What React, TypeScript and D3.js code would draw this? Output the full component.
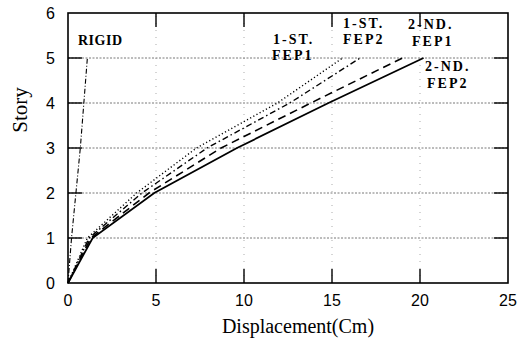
import React, { useEffect, useRef } from 'react';
import * as d3 from 'd3';

// story levels and displacement (cm)
const stories = [0, 1, 2, 3, 4, 5];
const rigid = [0, 0.2, 0.45, 0.7, 0.9, 1.1];
const st1Fep1 = [0, 1.1, 3.9, 7.3, 11.9, 15.6];
const st1Fep2 = [0, 1.2, 4.2, 7.9, 12.6, 16.6];
const nd2Fep1 = [0, 1.3, 4.6, 8.7, 13.8, 19.0];
const nd2Fep2 = [0, 1.4, 4.9, 9.6, 14.8, 20.2];
const xTicks = [0, 5, 10, 15, 20, 25];
const yTicks = [0, 1, 2, 3, 4, 5, 6];

export default function App() {
  const ref = useRef<SVGSVGElement>(null);

  /* SIZE */
  const WIDTH = 529;
  const HEIGHT = 345;
  const margin = { top: 13, right: 21, bottom: 62, left: 68 };
  const TICK = 14;

  function draw() {
    const svg = d3.select(ref.current);
    svg.selectAll('*').remove();

    const x = d3.scaleLinear().domain([0, 25]).range([margin.left, WIDTH - margin.right]);
    const y = d3.scaleLinear().domain([0, 6]).range([HEIGHT - margin.bottom, margin.top]);

    const g = svg.append('g');

    // grid
    g.append('g').selectAll('line')
      .data(yTicks.slice(1, -1))
      .enter().append('line')
      .attr('x1', x(0)).attr('x2', x(25))
      .attr('y1', d => y(d)).attr('y2', d => y(d))
      .attr('stroke', '#555').attr('stroke-width', 0.8)
      .attr('stroke-dasharray', '2,1.5');
    g.append('g').selectAll('line')
      .data(xTicks.slice(1, -1))
      .enter().append('line')
      .attr('y1', y(0)).attr('y2', y(6))
      .attr('x1', d => x(d)).attr('x2', d => x(d))
      .attr('stroke', '#888').attr('stroke-width', 0.7)
      .attr('stroke-dasharray', '1,6');

    // ticks inside the frame
    const ticks = g.append('g').attr('stroke', '#000').attr('stroke-width', 1.4);
    yTicks.slice(1, -1).forEach(d => {
      ticks.append('line').attr('x1', x(0)).attr('x2', x(0) + TICK).attr('y1', y(d)).attr('y2', y(d));
      ticks.append('line').attr('x1', x(25)).attr('x2', x(25) - TICK).attr('y1', y(d)).attr('y2', y(d));
    });
    xTicks.slice(1, -1).forEach(d => {
      ticks.append('line').attr('x1', x(d)).attr('x2', x(d)).attr('y1', y(0)).attr('y2', y(0) - TICK);
      ticks.append('line').attr('x1', x(d)).attr('x2', x(d)).attr('y1', y(6)).attr('y2', y(6) + TICK);
    });

    // frame
    g.append('rect')
      .attr('x', x(0)).attr('y', y(6))
      .attr('width', x(25) - x(0)).attr('height', y(0) - y(6))
      .attr('fill', 'none').attr('stroke', '#000').attr('stroke-width', 1.6);

    // curves
    const line = d3.line<number>()
      .x(d => x(d))
      .y((d, i) => y(stories[i]));
    const series = [
      { values: rigid, dash: '5,2,1,2', width: 1.1 },
      { values: st1Fep1, dash: '1.2,2.4', width: 1.4 },
      { values: st1Fep2, dash: '6,3,1.5,3', width: 1.4 },
      { values: nd2Fep1, dash: '8,5', width: 1.6 },
      { values: nd2Fep2, dash: null, width: 1.8 },
    ];
    g.append('g').selectAll('path')
      .data(series)
      .enter().append('path')
      .attr('fill', 'none')
      .attr('stroke', '#000')
      .attr('stroke-width', d => d.width)
      .attr('stroke-dasharray', d => d.dash)
      .attr('d', d => line(d.values));

    // tick labels
    const tickFont = '"Liberation Sans", Arial, sans-serif';
    g.append('g').selectAll('text')
      .data(xTicks)
      .enter().append('text')
      .attr('x', d => x(d)).attr('y', y(0) + 23)
      .attr('text-anchor', 'middle')
      .attr('font-family', tickFont).attr('font-size', 16)
      .text(d => d);
    g.append('g').selectAll('text')
      .data(yTicks)
      .enter().append('text')
      .attr('x', x(0) - 13).attr('y', d => y(d) + 6)
      .attr('text-anchor', 'end')
      .attr('font-family', tickFont).attr('font-size', 16)
      .text(d => d);

    // axis titles
    const serif = '"Liberation Serif", "Times New Roman", serif';
    g.append('text')
      .attr('x', 298).attr('y', 333)
      .attr('text-anchor', 'middle')
      .attr('font-family', serif).attr('font-size', 20)
      .text('Displacement(Cm)');
    g.append('text')
      .attr('transform', 'translate(27,110) rotate(-90)')
      .attr('text-anchor', 'middle')
      .attr('font-family', serif).attr('font-size', 21)
      .text('Story');

    // curve labels
    const labels = [
      { text: 'RIGID', x: 78, y: 45, spacing: 0.5 },
      { text: '1-ST.', x: 273, y: 44 },
      { text: 'FEP1', x: 272, y: 60 },
      { text: '1-ST.', x: 343, y: 28 },
      { text: 'FEP2', x: 343, y: 44 },
      { text: '2-ND.', x: 408, y: 29 },
      { text: 'FEP1', x: 412, y: 46 },
      { text: '2-ND.', x: 425, y: 71 },
      { text: 'FEP2', x: 427, y: 88 },
    ];
    g.append('g').selectAll('text')
      .data(labels)
      .enter().append('text')
      .attr('x', d => d.x).attr('y', d => d.y)
      .attr('font-family', serif)
      .attr('font-size', 14)
      .attr('font-weight', 'bold')
      .attr('letter-spacing', d => d.spacing ?? 2)
      .text(d => d.text);
  }

  useEffect(() => {
    draw();
  }, []);

  return (
    <svg ref={ref} width={WIDTH} height={HEIGHT}
      style={{ position: 'absolute', left: 0, top: 0, background: '#fff' }}>
    </svg>
  );
}
